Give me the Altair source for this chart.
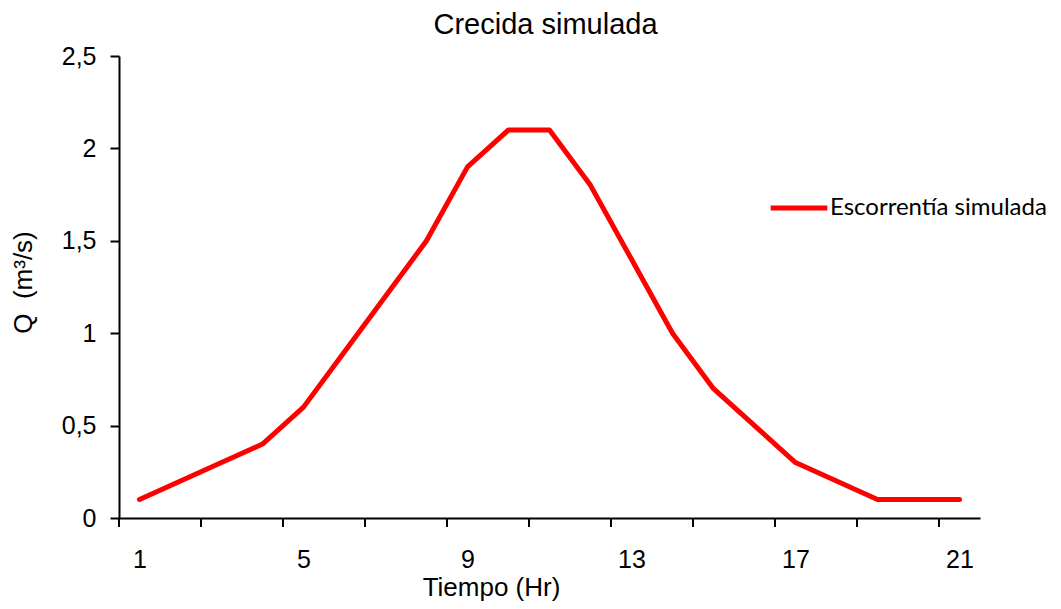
import altair as alt
import pandas as pd

# --- data ---
tiempo = list(range(1, 22))
caudal = [0.1, 0.2, 0.3, 0.4, 0.6, 0.9, 1.2, 1.5, 1.9, 2.1, 2.1,
          1.8, 1.4, 1.0, 0.7, 0.5, 0.3, 0.2, 0.1, 0.1, 0.1]
serie = "Escorrentía simulada"
x_label_values = [1, 5, 9, 13, 17, 21]
x_tick_marks = [0.5, 2.5, 4.5, 6.5, 8.5, 10.5, 12.5, 14.5, 16.5, 18.5, 20.5]
y_tick_values = [0, 0.5, 1, 1.5, 2, 2.5]

df = pd.DataFrame({"Tiempo": tiempo, "Q": caudal, "Serie": [serie] * len(tiempo)})
ticks_df = pd.DataFrame({"pos": x_tick_marks})

W, H = 861, 462
FONT = "Liberation Sans"

x_scale = alt.Scale(domain=[0.5, 21.5], nice=False, zero=False)
y_scale = alt.Scale(domain=[0, 2.5], nice=False, zero=True)

x_axis = alt.Axis(values=x_label_values, tickSize=0, labelPadding=49,
                  labelBaseline="alphabetic", labelFontSize=25,
                  labelFont=FONT, labelColor="black", grid=False,
                  domainColor="black", domainWidth=2,
                  title="Tiempo (Hr)", titleFont=FONT, titleFontSize=26,
                  titleFontWeight="normal", titleColor="black",
                  titleBaseline="alphabetic", titleAlign="center",
                  titleX=372, titleY=77)

line = alt.Chart(df).mark_line(
    strokeWidth=5, strokeCap="round", strokeJoin="round"
).encode(
    x=alt.X("Tiempo:Q", scale=x_scale, axis=x_axis),
    y=alt.Y("Q:Q", scale=y_scale,
            axis=alt.Axis(values=y_tick_values,
                          labelExpr="replace(format(datum.value, '~g'), '.', ',')",
                          tickSize=9, tickColor="black", tickWidth=2,
                          labelPadding=14, labelFontSize=25, labelFont=FONT,
                          labelColor="black", grid=False,
                          domainColor="black", domainWidth=2,
                          title="Q\u00a0\u00a0(m³/s)", titleFont=FONT, titleFontSize=26,
                          titleFontWeight="normal", titleColor="black",
                          titleBaseline="middle", titleX=-96, titleY=226,
                          titleAngle=270)),
    color=alt.Color("Serie:N", scale=alt.Scale(range=["#FF0000"]),
                    legend=alt.Legend(title=None, orient="none",
                                      legendX=649, legendY=121,
                                      symbolType="stroke", symbolSize=3200,
                                      symbolStrokeWidth=5, labelOffset=0,
                                      labelFont="Lato", labelFontSize=24,
                                      labelColor="black", labelLimit=400)),
)

ticks = alt.Chart(ticks_df).mark_rule(color="black", strokeWidth=2).encode(
    x=alt.X("pos:Q", scale=x_scale, axis=x_axis),
    y=alt.value(H),
    y2=alt.value(H + 9),
)

chart = alt.layer(line, ticks).properties(
    width=W, height=H,
    title=alt.TitleParams("Crecida simulada", font=FONT, fontSize=29,
                          fontWeight="normal", color="black", anchor="middle",
                          offset=4, dx=-4),
    autosize=alt.AutoSizeParams(type="none"),
    padding={"left": 111, "top": 48, "right": 73, "bottom": 83},
).configure(background="white", view=alt.ViewConfig(stroke="transparent", strokeWidth=0))

chart.save("out.html", embed_options={"renderer": "svg", "actions": False})
